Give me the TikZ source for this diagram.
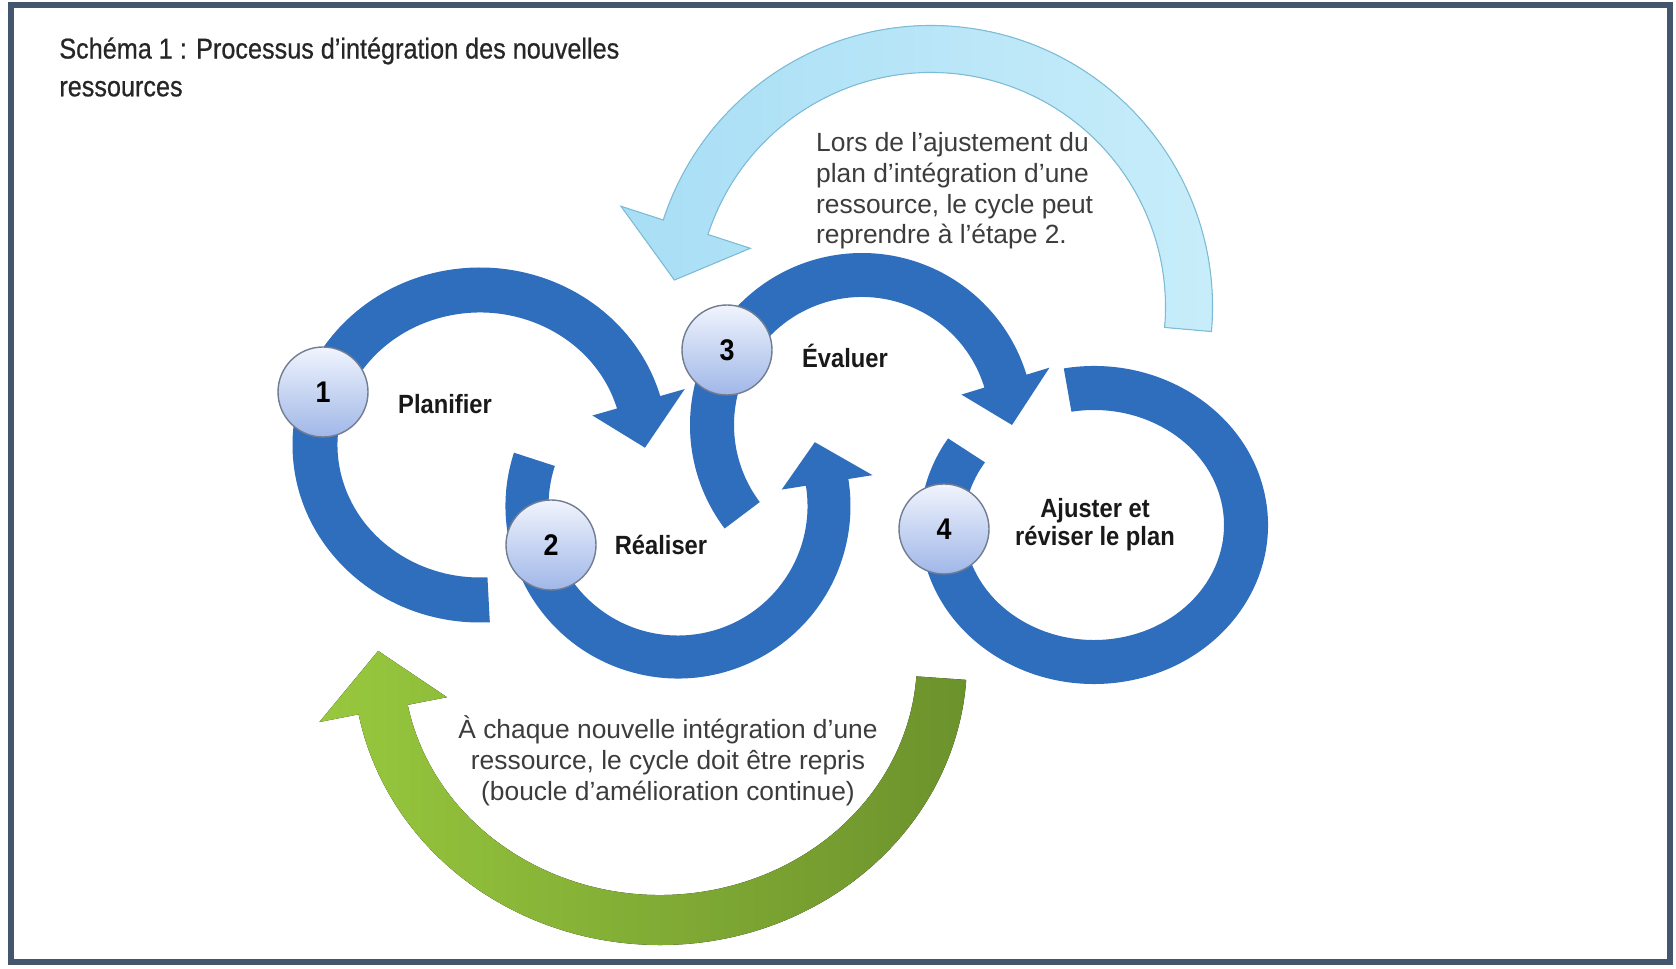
\documentclass[tikz,border=0pt]{standalone}
\usepackage{fontspec}
\setmainfont{Liberation Sans}
\newfontfamily\narrowfont[FakeStretch=0.9]{Liberation Sans}
\newfontfamily\titlefont[FakeStretch=0.88, FakeBold=0.6]{Liberation Sans}
\usetikzlibrary{positioning}

\definecolor{ringblue}{RGB}{46,110,189}
\definecolor{skyfill}{RGB}{200,237,250}
\definecolor{skydeep}{RGB}{168,222,245}
\definecolor{skyline}{RGB}{125,188,215}
\definecolor{leaflight}{RGB}{152,200,62}
\definecolor{leafdark}{RGB}{108,146,44}
\definecolor{badgetop}{RGB}{240,244,253}
\definecolor{badgebottom}{RGB}{160,183,232}
\definecolor{badgeline}{RGB}{115,125,145}
\definecolor{framecol}{RGB}{68,86,110}
\definecolor{notegray}{RGB}{60,60,60}

\begin{document}
\begin{tikzpicture}[x=0.2mm, y=0.2mm,
    ring/.style={fill=ringblue},
    skyarrow/.style={draw=skyline, line width=0.6pt, left color=skydeep, right color=skyfill},
    leafarrow/.style={left color=leaflight, right color=leafdark},
    badge/.style={circle, draw=badgeline, line width=0.8pt, top color=badgetop, bottom color=badgebottom,
      minimum size=18mm, inner sep=0pt, font=\narrowfont\bfseries\fontsize{17}{20}\selectfont},
    steplabel/.style={font=\narrowfont\bfseries\fontsize{15}{16}\selectfont, align=center, text=black!90},
    note/.style={font=\fontsize{15}{17.5}\selectfont, text=notegray},
  ]
  \useasboundingbox (0,0) rectangle (1676,968);
  \fill[white] (0,0) rectangle (1676,968);

  % Frame
  \draw[framecol, line width=1.2mm] (11,6) rectangle (1670,963);

  % Title
  \node[anchor=west, align=left, inner sep=0pt, text=black!85, font=\titlefont\fontsize{16.3}{21.5}\selectfont] (title) at (59,901)
    {Schéma 1 : Processus d’intégration des nouvelles\\ressources};

  % Light blue return arrow (back to step 2)
  \begin{scope}[shift={(931,661)}]
    \filldraw[skyarrow] (-5:281.5) arc[start angle=-5, end angle=162, radius=281.5]
      -- (162:326) -- (174:258) -- (162:190)
      -- (162:234.5) arc[start angle=162, end angle=-5, radius=234.5] -- cycle;
  \end{scope}

  % Green loop arrow
  \begin{scope}[shift={(660,308)}]
    \fill[leafarrow] (-4:307 and 285) arc[start angle=-4, end angle=-169, x radius=307, y radius=285]
      -- (-169:347 and 325) -- (-182:282 and 260) -- (-169:217 and 195)
      -- (-169:257 and 235) arc[start angle=-169, end angle=-4, x radius=257, y radius=235] -- cycle;
  \end{scope}

  % Ring 1
  \begin{scope}[shift={(480,523)}]
    \fill[ring] (273:187.5 and 177.5) arc[start angle=273, end angle=16, x radius=187.5, y radius=177.5]
      -- (16:213 and 203) -- (-1:165 and 155) -- (16:117 and 107)
      -- (16:142.5 and 132.5) arc[start angle=16, end angle=273, x radius=142.5, y radius=132.5] -- cycle;
  \end{scope}

  % Ring 2
  \begin{scope}[shift={(678,462)}]
    \fill[ring] (162:172.5) arc[start angle=162, end angle=369, radius=172.5]
      -- (369:197) -- (385:151) -- (369:105)
      -- (369:129.5) arc[start angle=369, end angle=162, radius=129.5] -- cycle;
  \end{scope}

  % Ring 3
  \begin{scope}[shift={(862,543)}]
    \fill[ring] (217:172) arc[start angle=217, end angle=17, radius=172]
      -- (17:196) -- (0:150) -- (17:104)
      -- (17:128) arc[start angle=17, end angle=217, radius=128] -- cycle;
  \end{scope}

  % Ring 4
  \begin{scope}[shift={(1094,443)}]
    \fill[ring] (100:174 and 159) arc[start angle=100, end angle=-213, x radius=174, y radius=159]
      -- (-213:130 and 115) arc[start angle=-213, end angle=100, x radius=130, y radius=115] -- cycle;
  \end{scope}

  % Step badges
  \node[badge] (one) at (323,576) {1};
  \node[badge] (two) at (551,423) {2};
  \node[badge] (three) at (727,618) {3};
  \node[badge] (four) at (944,439) {4};

  % Step labels
  \node[steplabel] (plan) at (445,564) {Planifier};
  \node[steplabel] (real) at (661,423) {Réaliser};
  \node[steplabel] (eval) at (845,612) {Évaluer};
  \node[steplabel] (adjust) at (1095,443) {Ajuster et\\réviser le plan};

  % Notes
  \node[note, anchor=west, align=left] (adjustnote) at (810,777)
    {Lors de l’ajustement du\\plan d’intégration d’une\\ressource, le cycle peut\\reprendre à l’étape 2.};
  \node[note, align=center] (loopnote) at (668,207)
    {À chaque nouvelle intégration d’une\\ressource, le cycle doit être repris\\(boucle d’amélioration continue)};
\end{tikzpicture}
\end{document}
